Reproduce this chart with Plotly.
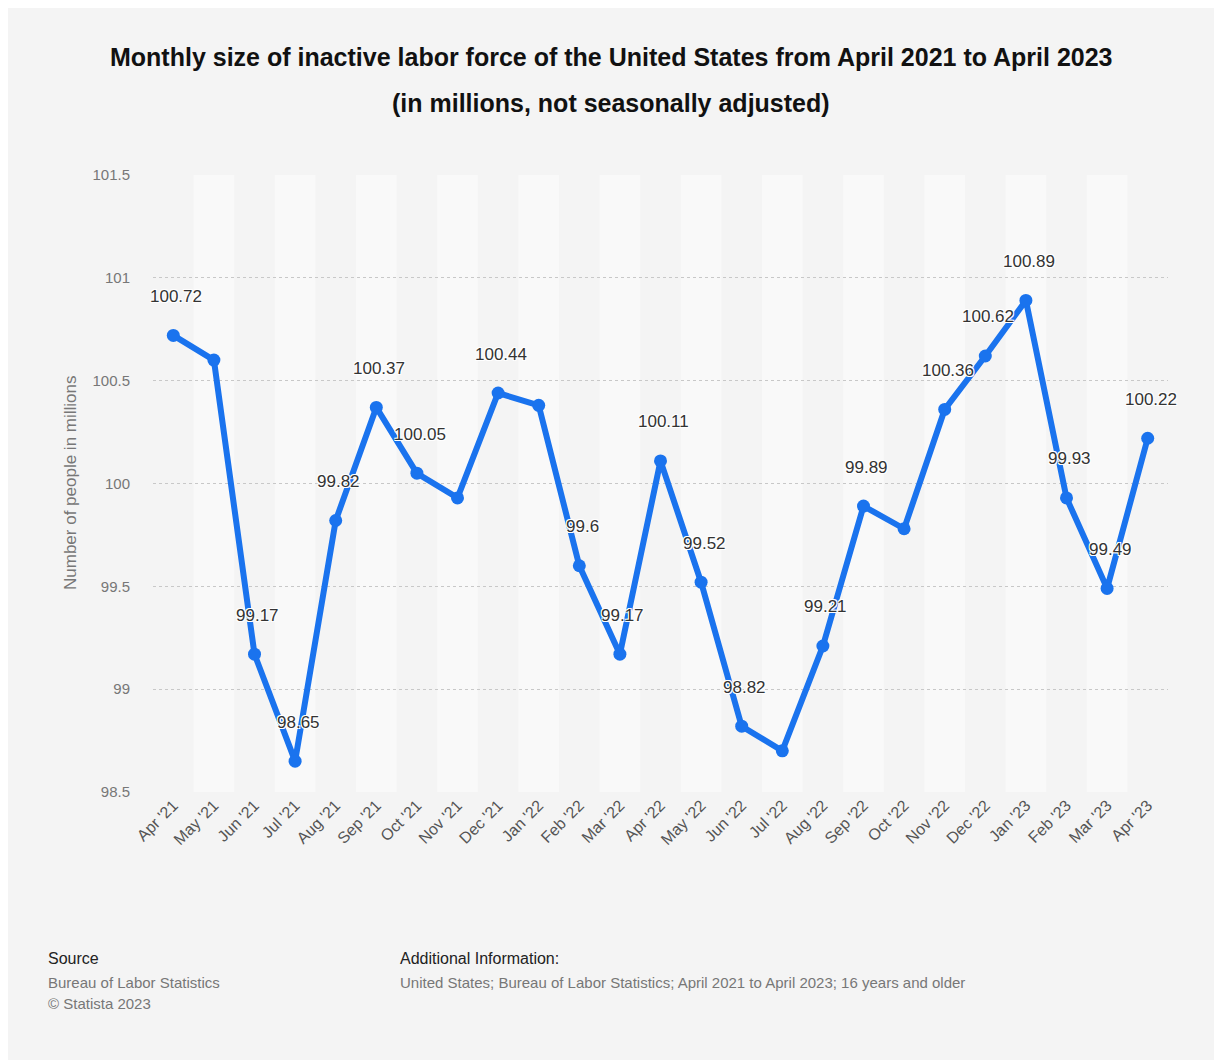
import plotly.graph_objects as go

months = ["Apr '21", "May '21", "Jun '21", "Jul '21", "Aug '21", "Sep '21", "Oct '21", "Nov '21",
          "Dec '21", "Jan '22", "Feb '22", "Mar '22", "Apr '22", "May '22", "Jun '22", "Jul '22",
          "Aug '22", "Sep '22", "Oct '22", "Nov '22", "Dec '22", "Jan '23", "Feb '23", "Mar '23", "Apr '23"]
values = [100.72, 100.60, 99.17, 98.65, 99.82, 100.37, 100.05, 99.93,
          100.44, 100.38, 99.60, 99.17, 100.11, 99.52, 98.82, 98.70,
          99.21, 99.89, 99.78, 100.36, 100.62, 100.89, 99.93, 99.49, 100.22]
show_label = [True, False, True, True, True, True, True, False,
              True, False, True, True, True, True, True, False,
              True, True, False, True, True, True, True, True, True]
y_ticks = [98.5, 99, 99.5, 100, 100.5, 101, 101.5]

OFF = 8  # browser body margin
W, H = 1222 - OFF, 1061 - OFF
L, R, T, B = 153 - OFF, 1168 - OFF, 175 - OFF, 792 - OFF
BLUE = "#1a73ee"
FONT = "Liberation Sans"


def px(x):
    return (x - OFF - L) / (R - L)


def py(y):
    return (B - (y - OFF)) / (B - T)


fig = go.Figure()
fig.add_trace(go.Scatter(
    x=months, y=values, mode="lines+markers",
    line=dict(color=BLUE, width=6),
    marker=dict(color=BLUE, size=13),
    hoverinfo="x+y", showlegend=False,
))

shapes = [dict(type="rect", xref="paper", yref="paper",
               x0=px(6), x1=px(1217), y0=py(1060), y1=py(7),
               fillcolor="#f4f4f4", line=dict(width=0), layer="below")]
for i, m in enumerate(months):
    if i % 2 == 1:
        shapes.append(dict(type="rect", xref="x", yref="paper",
                           x0=i - 0.5, x1=i + 0.5, y0=0, y1=1,
                           fillcolor="#f9f9f9", line=dict(width=0), layer="below"))

annotations = []
for m, v, s in zip(months, values, show_label):
    if s:
        annotations.append(dict(
            x=m, y=v, xref="x", yref="y", text=f"{v:g}", showarrow=False,
            yshift=39, xshift=3,
            font=dict(family=FONT, size=17, color="#333333",
                      shadow="-1px -1px 0 #fff, 1px -1px 0 #fff, -1px 1px 0 #fff, 1px 1px 0 #fff"),
        ))

annotations += [
    dict(text="<b>Monthly size of inactive labor force of the United States from April 2021 to April 2023</b>",
         x=px(611), y=py(57), xref="paper", yref="paper", showarrow=False,
         xanchor="center", yanchor="middle", font=dict(family=FONT, size=25, color="#111111")),
    dict(text="<b>(in millions, not seasonally adjusted)</b>",
         x=px(611), y=py(103), xref="paper", yref="paper", showarrow=False,
         xanchor="center", yanchor="middle", font=dict(family=FONT, size=25, color="#111111")),
    dict(text="Number of people in millions", textangle=-90,
         x=px(70), y=py(483), xref="paper", yref="paper", showarrow=False,
         xanchor="center", yanchor="middle", font=dict(family=FONT, size=17, color="#777777")),
    dict(text="Source", x=px(46), y=py(958), xref="paper", yref="paper", showarrow=False,
         xanchor="left", yanchor="middle", font=dict(family=FONT, size=16, color="#222222")),
    dict(text="Bureau of Labor Statistics", x=px(46), y=py(982), xref="paper", yref="paper",
         showarrow=False, xanchor="left", yanchor="middle",
         font=dict(family=FONT, size=15, color="#777777")),
    dict(text="© Statista 2023", x=px(46), y=py(1003), xref="paper", yref="paper",
         showarrow=False, xanchor="left", yanchor="middle",
         font=dict(family=FONT, size=15, color="#777777")),
    dict(text="Additional Information:", x=px(398), y=py(958), xref="paper", yref="paper",
         showarrow=False, xanchor="left", yanchor="middle",
         font=dict(family=FONT, size=16, color="#222222")),
    dict(text="United States; Bureau of Labor Statistics; April 2021 to April 2023; 16 years and older",
         x=px(398), y=py(982), xref="paper", yref="paper", showarrow=False,
         xanchor="left", yanchor="middle", font=dict(family=FONT, size=15, color="#777777")),
]

fig.update_layout(
    width=W, height=H,
    margin=dict(l=L, r=W - R, t=T, b=H - B, pad=0),
    paper_bgcolor="#ffffff", plot_bgcolor="rgba(0,0,0,0)",
    shapes=shapes, annotations=annotations,
    font=dict(family=FONT),
    xaxis=dict(type="category", range=[-0.5, len(months) - 0.5], showgrid=False,
               zeroline=False, showline=False, ticks="", tickangle=-45,
               tickfont=dict(family=FONT, size=16, color="#555555")),
    yaxis=dict(range=[98.5, 101.5], tickvals=y_ticks, ticktext=[f"{t:g}" for t in y_ticks],
               showgrid=True, gridcolor="#c8c8c8", griddash="dot", gridwidth=1,
               zeroline=False, showline=False, ticks="", ticklabelstandoff=22,
               tickfont=dict(family=FONT, size=15, color="#777777")),
)

fig.write_html("out.html")
